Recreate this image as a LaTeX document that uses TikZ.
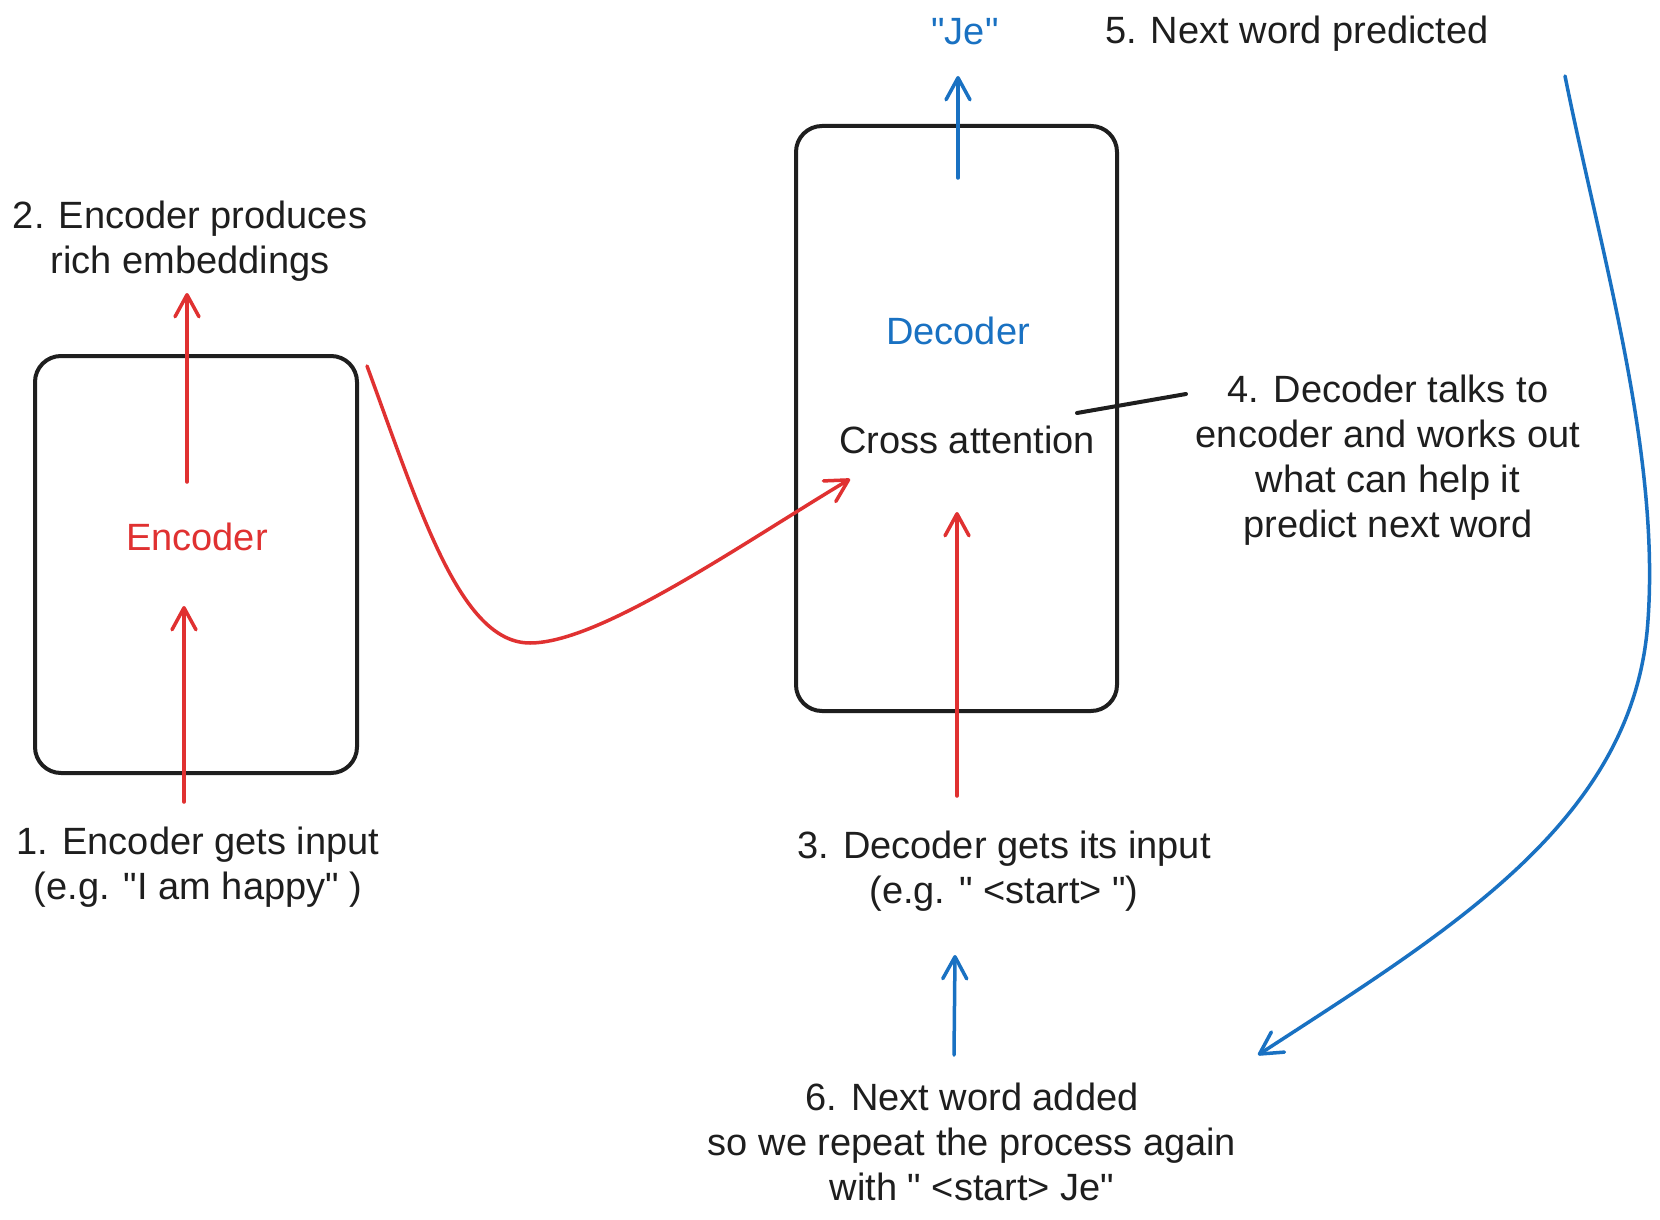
\documentclass[tikz,border=0pt]{standalone}
\usepackage{fontspec}
\setmainfont{Liberation Sans}[Ligatures=TeXOff]
\usetikzlibrary{arrows.meta}
\definecolor{xred}{HTML}{E03131}
\definecolor{xblue}{HTML}{1971C2}
\definecolor{xink}{HTML}{1E1E1E}
\begin{document}
\begin{tikzpicture}[x=1pt,y=-1pt,
  box/.style={draw=xink, line width=4pt, rounded corners=26pt, inner sep=0pt},
  lbl/.style={font=\fontsize{38}{45}\selectfont, text=xink, align=center, inner sep=0pt},
  redarrow/.style={draw=xred, line width=3.5pt, line cap=round, line join=round,
    -{Straight Barb[length=22pt,width=24pt,line cap=round,line join=round]}},
  bluearrow/.style={draw=xblue, line width=3.5pt, line cap=round, line join=round,
    -{Straight Barb[length=22pt,width=24pt,line cap=round,line join=round]}},
  pointer/.style={draw=xink, line width=4pt, line cap=round}]
\fill[white] (0,0) rectangle (1660,1220);
\useasboundingbox (0,0) rectangle (1660,1220);

% boxes
\node[box, minimum width=322pt, minimum height=417pt] (enc) at (196,564.5) {};
\node[box, minimum width=321pt, minimum height=585pt] (dec) at (956.5,418.5) {};

% inner labels
\node[lbl, text=xred] (enclbl) at (197,537) {Encoder};
\node[lbl, text=xblue] (declbl) at (958,331) {Decoder};
\node[lbl] (cross) at (967,440) {Cross attention};
\node[lbl, text=xblue] (je) at (965,32) {"Je"};

% notes
\node[lbl] (n1) at (198,867) {1. Encoder gets input\\(e.g. "I am happy" )};
\node[lbl] (n2) at (190,241.5) {2. Encoder produces\\rich embeddings};
\node[lbl] (n3) at (1004,871) {3. Decoder gets its input\\(e.g. " <start> ")};
\node[lbl] (n4) at (1388,460) {4. Decoder talks to\\encoder and works out\\what can help it\\predict next word};
\node[lbl] (n5) at (1297,34) {5. Next word predicted};
\node[lbl] (n6) at (972,1142) {6. Next word added\\so we repeat the process again\\with " <start> Je"};

% coordinates for free arrow ends
\coordinate (a1s) at (184,802);  \coordinate (a1e) at (184,606);
\coordinate (a2s) at (187,482);  \coordinate (a2e) at (187,293);
\coordinate (a3s) at (957,796);  \coordinate (a3e) at (957,512);
\coordinate (a5s) at (958,178);  \coordinate (a5e) at (958,76);
\coordinate (a6s) at (954,1055); \coordinate (a6e) at (955,955);
\coordinate (cs) at (367,366);   \coordinate (cb) at (530,643); \coordinate (ce) at (850,479);
\coordinate (bs) at (1565,76);   \coordinate (bm) at (1648,620); \coordinate (be) at (1258,1055);
\coordinate (ps) at (1077,413);  \coordinate (pe) at (1186,394);

% arrows
\draw[redarrow] (a1s) -- (a1e);
\draw[redarrow] (a2s) -- (a2e);
\draw[redarrow] (a3s) -- (a3e);
\draw[bluearrow] (a5s) -- (a5e);
\draw[bluearrow] (a6s) -- (a6e);
\draw[redarrow] (cs) .. controls (420,510) and (460,643) .. (cb)
                     .. controls (600,643) and (740,545) .. (ce);
\draw[bluearrow] (bs) .. controls (1600,250) and (1660,450) .. (bm)
                      .. controls (1635,820) and (1450,930) .. (be);
\draw[pointer] (ps) -- (pe);
\end{tikzpicture}
\end{document}
